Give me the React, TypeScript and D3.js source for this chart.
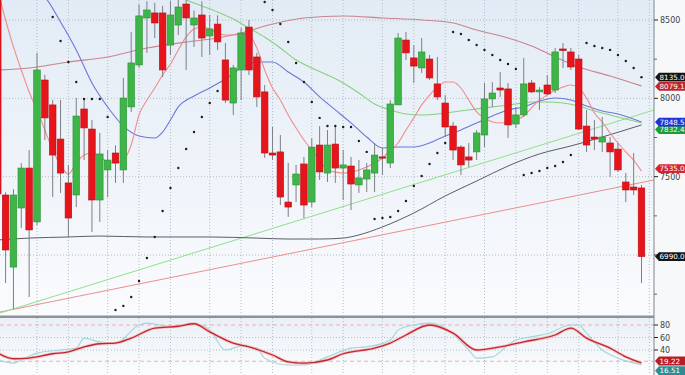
import * as d3 from "d3";

// daily candles, index 1..83 (first one is cut by the left edge)
const opens = [8640, 7383, 6923, 7300, 7555, 7211, 8117, 7958, 7740, 7460, 7383, 7932, 7804, 7351, 7543, 7651, 7543, 7945, 8213, 8513, 8545, 8545, 8340, 8468, 8602, 8468, 8532, 8398, 8474, 8245, 7970, 8181, 8455, 8264, 8041, 7651, 7658, 7338, 7447, 7581, 7338, 7702, 7523, 7708, 7555, 7568, 7447, 7485, 7523, 7626, 7587, 7958, 8372, 8258, 8194, 8251, 8092, 7970, 7823, 7689, 7626, 7658, 7766, 7996, 8066, 8060, 7836, 7894, 8098, 8041, 8085, 8053, 8315, 8296, 8251, 7823, 7753, 7721, 7715, 7676, 7466, 7434, 7428];
const highs = [8660, 7400, 7420, 7587, 7670, 8290, 8150, 7990, 7990, 7575, 8002, 8002, 7862, 7779, 7670, 7700, 8130, 8423, 8600, 8620, 8610, 8590, 8620, 8630, 8640, 8560, 8620, 8532, 8530, 8353, 8213, 8449, 8500, 8290, 8085, 7817, 7766, 7587, 7575, 7626, 7747, 7823, 7798, 7830, 7670, 7626, 7606, 7587, 7715, 7683, 7989, 8417, 8423, 8340, 8385, 8277, 8264, 8021, 7849, 7700, 7715, 7798, 8098, 8104, 8168, 8098, 7945, 8258, 8117, 8072, 8149, 8321, 8353, 8321, 8277, 7926, 7862, 7881, 7753, 7715, 7523, 7651, 7447];
const lows = [7330, 6821, 6655, 7172, 6732, 7190, 7734, 7370, 7396, 7115, 7306, 7606, 7147, 7211, 7370, 7460, 7460, 7913, 8194, 8290, 8385, 8136, 8277, 8404, 8181, 8328, 8264, 8277, 8309, 7970, 7894, 7989, 8149, 7945, 7620, 7606, 7319, 7243, 7338, 7236, 7306, 7479, 7466, 7460, 7351, 7287, 7396, 7402, 7402, 7511, 7555, 7958, 8245, 8098, 8162, 8117, 7989, 7753, 7606, 7511, 7562, 7606, 7689, 7945, 8009, 7747, 7811, 7881, 8034, 7926, 8021, 8034, 8194, 8181, 7798, 7658, 7670, 7658, 7498, 7530, 7338, 7383, 6821];
const closes = [7390, 7032, 7383, 7555, 7160, 8181, 7875, 7638, 7523, 7236, 7887, 7811, 7351, 7645, 7606, 7587, 8002, 8226, 8526, 8564, 8481, 8181, 8532, 8583, 8513, 8513, 8385, 8443, 8360, 7989, 8194, 8417, 8181, 8009, 7651, 7638, 7370, 7306, 7517, 7319, 7689, 7530, 7702, 7555, 7575, 7453, 7492, 7543, 7638, 7620, 7964, 8385, 8290, 8206, 8296, 8130, 8009, 7817, 7670, 7575, 7606, 7779, 7996, 8034, 8053, 7830, 7894, 8092, 8041, 8053, 8028, 8296, 8305, 8200, 7804, 7702, 7740, 7753, 7658, 7543, 7415, 7415, 6990];

// candle indices that carry a vertical grid line (week starts)
const weekStarts = [6, 10, 15, 19, 23, 28, 32, 36, 41, 45, 50, 54, 58, 63, 67, 71, 75, 80, 84];

// parabolic SAR [index, value]
const sar = [
  [8, 8519], [9, 8366], [10, 8232], [11, 8104], [12, 7996], [13, 7996], [14, 7996], [15, 7881],
  [16, 6649], [17, 6675], [18, 6732], [19, 6834], [20, 6981], [21, 7115], [22, 7281], [23, 7428], [24, 7555], [25, 7677], [26, 7785], [27, 7881], [28, 7970], [29, 8047],
  [35, 8615], [36, 8564], [37, 8474], [38, 8360], [39, 8226], [40, 8104], [41, 7977], [42, 7875], [43, 7823], [44, 7823], [45, 7817], [46, 7817], [47, 7728], [48, 7658],
  [49, 7230], [50, 7236], [51, 7243], [52, 7281], [53, 7345], [54, 7440], [55, 7504], [56, 7581], [57, 7651], [58, 7715],
  [59, 8423], [60, 8411], [61, 8372], [62, 8340], [63, 8309], [64, 8277], [65, 8245], [66, 8219], [67, 8187],
  [68, 7511], [69, 7523], [70, 7536], [71, 7555], [72, 7568], [73, 7594], [74, 7638],
  [76, 8353], [77, 8334], [78, 8321], [79, 8309], [80, 8277], [81, 8238], [82, 8194], [83, 8135.09],
];

// moving averages [index, value]
const maFast = [
  [1, 8692], [2, 8500], [3, 8328], [4, 8181], [5, 8040], [6, 7926], [7, 7798], [8, 7670], [9, 7575], [10, 7517],
  [11, 7587], [12, 7638], [13, 7651], [14, 7626], [15, 7594], [16, 7587], [17, 7606], [18, 7702], [19, 7894], [20, 7989],
  [21, 8066], [22, 8149], [23, 8219], [24, 8309], [25, 8392], [26, 8443], [27, 8455], [28, 8443], [29, 8417], [30, 8404],
  [31, 8404], [32, 8411], [33, 8404], [34, 8321], [35, 8181], [36, 8066], [37, 7989], [38, 7894], [39, 7811], [40, 7734],
  [41, 7670], [42, 7606], [43, 7543], [44, 7530], [45, 7523], [46, 7530], [47, 7543], [48, 7562], [49, 7587], [50, 7619],
  [51, 7670], [52, 7715], [53, 7798], [54, 7875], [55, 7958], [56, 8021], [57, 8072], [58, 8104], [59, 8104], [60, 8066],
  [61, 7989], [62, 7913], [63, 7875], [64, 7849], [65, 7843], [66, 7849], [67, 7862], [68, 7887], [69, 7939], [70, 7989],
  [71, 8021], [72, 8053], [73, 8072], [74, 8085], [75, 8066], [76, 8002], [77, 7906], [78, 7849], [79, 7779], [80, 7715],
  [81, 7658], [82, 7606], [83, 7535],
];
const maMid = [
  [5, 8704], [7, 8647], [9, 8487], [11, 8309], [13, 8098], [15, 7945], [17, 7823], [19, 7760], [21, 7747], [22, 7785],
  [23, 7862], [24, 7945], [26, 8015], [28, 8066], [30, 8123], [32, 8194], [34, 8232], [36, 8232], [38, 8168], [40, 8104],
  [42, 8009], [44, 7926], [46, 7843], [48, 7753], [50, 7683], [52, 7689], [54, 7689], [56, 7715], [58, 7760], [60, 7798],
  [62, 7843], [64, 7887], [66, 7926], [68, 7945], [70, 7983], [72, 8002], [74, 7989], [76, 7951], [78, 7919], [80, 7900],
  [83, 7848.52],
];
const maSlow = [
  [22, 8704], [25, 8628], [27, 8590], [29, 8551], [31, 8506], [33, 8449], [35, 8391], [37, 8321], [39, 8245], [41, 8194],
  [43, 8149], [45, 8098], [47, 8034], [49, 7964], [51, 7926], [53, 7900], [55, 7894], [57, 7900], [59, 7913], [61, 7926],
  [63, 7939], [65, 7951], [67, 7964], [69, 7977], [71, 7977], [73, 7970], [75, 7951], [77, 7919], [79, 7894], [81, 7868],
  [83, 7843],
];
const maLong = [
  [1, 8181], [5, 8194], [10, 8232], [15, 8264], [20, 8321], [25, 8360], [29, 8385], [32, 8417], [36, 8474], [40, 8513],
  [45, 8526], [50, 8513], [55, 8500], [59, 8481], [62, 8436], [66, 8385], [69, 8334], [72, 8264], [75, 8200], [79, 8143],
  [83, 8079.17],
];
const maVeryLong = [
  [1, 7096], [5, 7108], [10, 7115], [14, 7121], [20, 7115], [28, 7115], [34, 7108], [38, 7102], [42, 7102], [45, 7108],
  [47, 7128], [50, 7179], [54, 7268], [58, 7377], [62, 7472], [66, 7568], [70, 7645], [74, 7696], [78, 7753], [83, 7830],
];

// straight trend lines [index, value]
const trendGreen = [[1, 6625], [85, 7932]];
const trendRed = [[1, 6633], [85, 7483]];

// stochastic
const stochK = [
  [1, 24], [3, 19], [4, 24], [6, 35], [9, 40], [11, 43], [12, 59], [14, 53], [16, 51], [19, 80],
  [20, 83], [23, 78], [26, 82], [28, 72], [30, 40], [32, 46], [34, 43], [35, 27], [38, 16], [40, 16],
  [43, 29], [46, 43], [48, 45], [51, 56], [52, 72], [54, 80], [56, 83], [58, 75], [61, 40], [62, 27],
  [64, 29], [66, 48], [67, 56], [69, 61], [71, 66], [74, 80], [75, 80], [76, 67], [78, 40], [80, 27],
  [83, 16.5],
];
const stochD = [
  [1, 35], [3, 26], [5, 27], [8, 34], [10, 37], [12, 45], [14, 50], [16, 51], [18, 59], [21, 75],
  [24, 78], [26, 82], [28, 69], [31, 51], [33, 45], [36, 32], [38, 21], [40, 19], [43, 24], [45, 34],
  [49, 43], [51, 51], [53, 64], [56, 80], [59, 67], [62, 40], [65, 45], [68, 53], [72, 64], [74, 75],
  [76, 59], [79, 43], [81, 29], [83, 19.2],
];

// axis labels (7000 sits under the close tag, only its tick shows)
const priceLabels = [8500, 8000, 7500];
const priceMajor = [8500, 8000, 7500, 7000];
const priceMinor = [8250, 7750, 7250, 6750];
const stochTicks = [80, 60, 40];

const mainTags = [
  { text: "8135.09", value: 8135.09, color: "#141414", dy: 0 },
  { text: "8079.17", value: 8079.17, color: "#c4232b", dy: 0.5 },
  { text: "7832.46", value: 7832.46, color: "#1e9a38", dy: 5 },
  { text: "7848.52", value: 7848.52, color: "#1d35d6", dy: 0 },
  { text: "7535.00", value: 7535, color: "#d6242a", dy: -2.5 },
  { text: "6990.00", value: 6990, color: "#141414", dy: 0 },
];
const stochTags = [
  { text: "19.22", value: 19.2, color: "#b81d25", dy: -2 },
  { text: "16.51", value: 16.5, color: "#2c8c95", dy: 6 },
];

const W = 685;
const H = 375;
const plotR = 654;
const mainBottom = 315.5;
const lowTop = 318;
const font = "'DejaVu Sans', sans-serif";

export default function App() {
  const x = d3.scaleLinear().domain([6, 83]).range([37, 641.5]);
  const y = d3.scaleLinear().domain([7000, 8500]).range([255, 20]);
  const ys = d3.scaleLinear().domain([0, 100]).range([375, 312.5]);

  const line = d3
    .line<number[]>()
    .x((d) => x(d[0]))
    .y((d) => y(d[1]))
    .curve(d3.curveMonotoneX);
  const sline = d3
    .line<number[]>()
    .x((d) => x(d[0]))
    .y((d) => ys(d[1]))
    .curve(d3.curveMonotoneX);
  const straight = d3
    .line<number[]>()
    .x((d) => x(d[0]))
    .y((d) => y(d[1]));

  const bw = 6.6;

  const tag = (t: any, yy: number, key: string) => (
    <g key={key}>
      <path
        d={`M${plotR + 1},${yy} L${plotR + 5},${yy - 4.4} L${W},${yy - 4.4} L${W},${yy + 4.4} L${plotR + 5},${yy + 4.4} Z`}
        fill={t.color}
      />
      <text x={plotR + 5.5} y={yy + 2.6} fontSize={7.2} fill="#fff" fontFamily={font}>
        {t.text}
      </text>
    </g>
  );

  return (
    <svg
      width={W}
      height={H}
      style={{ position: "absolute", left: 0, top: 0, display: "block" }}
    >
      <defs>
        <linearGradient id="bgMain" x1="0" y1="0" x2="0" y2="1">
          <stop offset="0%" stopColor="#e2ebf5" />
          <stop offset="100%" stopColor="#fafbfd" />
        </linearGradient>
        <linearGradient id="bgLow" x1="0" y1="0" x2="0" y2="1">
          <stop offset="0%" stopColor="#eaf0f7" />
          <stop offset="100%" stopColor="#fbfcfd" />
        </linearGradient>
        <clipPath id="clipMain">
          <rect x={0} y={0} width={plotR} height={mainBottom} />
        </clipPath>
        <clipPath id="clipLow">
          <rect x={0} y={lowTop} width={plotR} height={H - lowTop} />
        </clipPath>
      </defs>

      <rect x={0} y={0} width={W} height={H} fill="#f6f8fa" />
      <rect x={0} y={0} width={plotR} height={mainBottom} fill="url(#bgMain)" />
      <rect x={0} y={lowTop} width={plotR} height={H - lowTop} fill="url(#bgLow)" />

      {/* main panel */}
      <g clipPath="url(#clipMain)">
        {weekStarts.map((i) => (
          <line key={"vg" + i} x1={x(i)} x2={x(i)} y1={0} y2={mainBottom} stroke="#a4afbc" strokeWidth={0.8} strokeDasharray="1,2" />
        ))}
        {priceMajor.map((p) => (
          <line key={"hg" + p} x1={0} x2={plotR} y1={y(p)} y2={y(p)} stroke="#a4afbc" strokeWidth={0.8} strokeDasharray="1,2" />
        ))}

        <path d={straight(trendRed) || ""} fill="none" stroke="#ec8e8e" strokeWidth={1} />
        <path d={straight(trendGreen) || ""} fill="none" stroke="#8fe08a" strokeWidth={1} />
        <path d={line(maVeryLong) || ""} fill="none" stroke="#5a5d62" strokeWidth={1} />
        <path d={line(maLong) || ""} fill="none" stroke="#c9848e" strokeWidth={1.1} />
        <path d={line(maSlow) || ""} fill="none" stroke="#86d27e" strokeWidth={1.1} />
        <path d={line(maMid) || ""} fill="none" stroke="#6a78d8" strokeWidth={1.1} />
        <path d={line(maFast) || ""} fill="none" stroke="#f08c8c" strokeWidth={1.1} />

        {closes.map((c, k) => {
          const i = k + 1;
          const o = opens[k];
          const up = c >= o;
          const top = y(Math.max(o, c));
          const bot = y(Math.min(o, c));
          return (
            <g key={"c" + i}>
              <line x1={x(i)} x2={x(i)} y1={y(highs[k])} y2={y(lows[k])} stroke="#7d7f84" strokeWidth={1} />
              <rect
                x={x(i) - bw / 2}
                y={top}
                width={bw}
                height={Math.max(bot - top, 1.2)}
                fill={up ? "#3eb547" : "#e5151b"}
                stroke={up ? "#2c8f35" : "#b80f14"}
                strokeWidth={0.6}
              />
            </g>
          );
        })}

        {sar.map((d) => (
          <circle key={"s" + d[0]} cx={x(d[0])} cy={y(d[1])} r={1.2} fill="#1c1c1c" />
        ))}
      </g>

      {/* separator */}
      <rect x={0} y={mainBottom} width={plotR} height={2.5} fill="#8d9198" />

      {/* stochastic panel */}
      <g clipPath="url(#clipLow)">
        {weekStarts.map((i) => (
          <line key={"lv" + i} x1={x(i)} x2={x(i)} y1={lowTop} y2={H} stroke="#a4afbc" strokeWidth={0.8} strokeDasharray="1,2" />
        ))}
        {[60, 40].map((v) => (
          <line key={"lh" + v} x1={0} x2={plotR} y1={ys(v)} y2={ys(v)} stroke="#a4afbc" strokeWidth={0.8} strokeDasharray="1,2" />
        ))}
        {[80, 22].map((v) => (
          <line key={"ld" + v} x1={0} x2={plotR} y1={ys(v)} y2={ys(v)} stroke="#f0a6a0" strokeWidth={0.9} strokeDasharray="4,3" />
        ))}
        <path d={sline(stochK) || ""} fill="none" stroke="#9fd6df" strokeWidth={1.1} />
        <path d={sline(stochD) || ""} fill="none" stroke="#f6b0b0" strokeWidth={3} opacity={0.7} />
        <path d={sline(stochD) || ""} fill="none" stroke="#c2262e" strokeWidth={1.3} />
      </g>

      {/* right axis */}
      <line x1={plotR} x2={plotR} y1={0} y2={H} stroke="#7f858c" strokeWidth={1} />
      {priceMajor.map((p) => (
        <line key={"pt" + p} x1={plotR} x2={plotR + 4} y1={y(p)} y2={y(p)} stroke="#222" strokeWidth={1} />
      ))}
      {priceLabels.map((p) => (
        <text key={"pl" + p} x={plotR + 6} y={y(p) + 3} fontSize={8} fill="#444" fontFamily={font}>
          {p}
        </text>
      ))}
      {priceMinor.map((p) => (
        <line key={"pm" + p} x1={plotR} x2={plotR + 3} y1={y(p)} y2={y(p)} stroke="#444" strokeWidth={0.8} />
      ))}
      {stochTicks.map((v) => (
        <g key={"st" + v}>
          <line x1={plotR} x2={plotR + 4} y1={ys(v)} y2={ys(v)} stroke="#222" strokeWidth={1} />
          <text x={plotR + 6} y={ys(v) + 3} fontSize={8} fill="#444" fontFamily={font}>
            {v}
          </text>
        </g>
      ))}

      {mainTags.map((t, k) => tag(t, y(t.value) + t.dy, "mt" + k))}
      {stochTags.map((t, k) => tag(t, ys(t.value) + t.dy, "st" + k))}
    </svg>
  );
}
